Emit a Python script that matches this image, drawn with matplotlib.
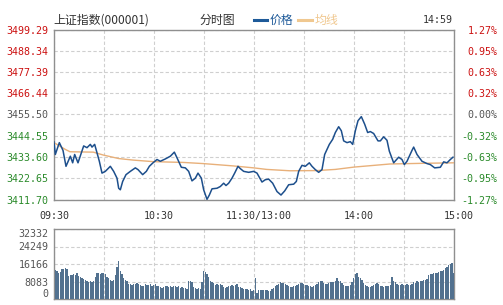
import numpy as np
import matplotlib
matplotlib.use("Agg")
import matplotlib.pyplot as plt
import matplotlib.transforms as mtransforms
from matplotlib.lines import Line2D

# ---------------- data ----------------
price_minutes = [0, 0.8, 3.2, 5.4, 7.2, 9.8, 11.2, 12.4, 14.4, 17.8, 19.8, 21.8, 22.8, 24.4,
                 27.2, 28.8, 30.8, 33.8, 35.8, 37.8, 38.8, 39.8, 41.2, 43.2, 45.8, 48.8, 50.4,
                 53.2, 55.4, 57.2, 59.4, 61.8, 63.8, 66.8, 69.8, 72.2, 73.8, 76.4, 78.8, 80.8,
                 82.8, 84.8, 86.4, 88.4, 89.8, 91.8, 93.2, 94.8, 97.8, 99.8, 101.8, 103.2, 104.8,
                 106.8, 108.4, 110.4, 111.8, 113.8, 116.8, 119.8, 121.8, 124.8, 126.8, 128.8,
                 131.2, 133.8, 136.2, 138.4, 140.8, 143.8, 145.4, 146.8, 148.8, 150.8, 153.2,
                 154.8, 156.8, 158.8, 160.8, 162.4, 165.2, 167.2, 168.8, 170.8, 172.4, 173.8,
                 175.8, 177.8, 179.2, 180.8, 182.4, 184.4, 186.4, 188.2, 189.8, 191.8, 194.4,
                 195.8, 197.8, 199.8, 201.2, 203.8, 206.8, 208.8, 210.2, 211.8, 214.8, 215.8,
                 217.8, 220.8, 223.8, 225.8, 228.4, 231.8, 233.8, 235.8, 237.8, 239.4]
price_values = [3441.3, 3434.9, 3441.0, 3437.0, 3428.8, 3434.0, 3430.6, 3434.9, 3430.6, 3439.3,
                3438.4, 3440.1, 3438.7, 3440.1, 3431.4, 3425.3, 3426.2, 3428.8, 3426.2, 3422.7,
                3417.5, 3416.7, 3421.0, 3424.5, 3426.2, 3428.0, 3427.1, 3424.5, 3426.2, 3428.8,
                3430.6, 3432.3, 3431.4, 3432.6, 3434.0, 3436.1, 3433.2, 3428.3, 3428.0, 3426.2,
                3421.3, 3422.7, 3425.3, 3422.7, 3416.7, 3411.8, 3414.0, 3417.2, 3417.5, 3418.4,
                3420.1, 3418.9, 3420.1, 3422.7, 3425.3, 3428.8, 3427.6, 3426.2, 3425.7, 3426.2,
                3425.3, 3420.7, 3421.9, 3422.2, 3420.1, 3415.8, 3414.0, 3416.1, 3419.3, 3419.6,
                3421.0, 3426.2, 3429.3, 3428.8, 3430.6, 3428.8, 3427.1, 3425.7, 3427.1, 3434.9,
                3440.1, 3442.7, 3446.2, 3449.2, 3447.1, 3441.9, 3441.0, 3441.5, 3440.1, 3447.1,
                3452.3, 3454.4, 3450.5, 3446.2, 3446.7, 3445.7, 3441.9, 3441.9, 3444.0, 3442.2,
                3436.6, 3430.6, 3433.5, 3432.3, 3429.7, 3431.4, 3437.0, 3438.7, 3434.9, 3431.4,
                3430.2, 3429.7, 3428.0, 3428.3, 3431.1, 3430.6, 3432.3, 3433.5]

avg_minutes = [0, 6.8, 9.6, 23.6, 29.6, 38.8, 47.6, 59.6, 77.6, 89.6, 107.6, 119.8, 127.6,
               141.6, 157.6, 168.8, 180.0, 201.6, 218.8, 239.6]
avg_values = [3441.0, 3437.5, 3436.3, 3436.1, 3434.6, 3432.8, 3432.0, 3431.2, 3430.8, 3430.2,
              3429.0, 3428.0, 3427.2, 3426.5, 3426.6, 3427.2, 3428.4, 3430.0, 3430.3, 3430.6]

volume_k = [
    13.5, 12.8, 12.0, 12.5, 13.7, 14.0, 14.2, 14.0, 10.8,
    11.0, 11.2, 11.5, 11.0, 11.8, 10.5, 10.0, 9.5,
    9.2, 9.0, 8.5, 8.0, 8.2, 8.0, 8.2, 10.0,
    12.0, 12.2, 11.5, 11.8, 12.0, 11.5, 10.0, 9.5,
    8.8, 8.5, 9.0, 11.0, 15.0, 17.5, 13.0, 11.5,
    9.5, 9.0, 8.5, 7.0, 6.8, 6.5, 7.0, 6.8, 7.5, 7.0,
    6.5, 6.0, 6.2, 7.0, 6.5, 6.5, 7.0, 6.0, 6.5, 7.0,
    6.0, 5.8, 5.5, 5.0, 5.5, 6.0, 5.8, 5.5, 6.0, 5.5, 6.0, 6.2, 5.5, 5.8, 5.0,
    5.5, 5.0, 5.0, 4.5, 8.5, 8.5, 8.0, 5.5, 5.0, 4.8,
    5.0, 4.5, 8.0, 12.8, 12.5, 11.5, 10.0, 8.5,
    8.0, 7.5, 6.5, 7.0, 6.5, 7.0, 6.5,
    5.5, 5.0, 5.5, 6.0, 6.0, 6.5, 6.0, 6.5, 7.0, 5.5,
    5.5, 5.0, 4.5, 4.8, 4.5, 4.0, 4.5, 3.8, 4.0,
    9.8,
    3.0, 4.0, 4.0, 4.2, 4.0, 4.2, 4.0, 3.8, 3.5, 4.5,
    5.0, 6.0, 6.5, 7.0, 8.0, 7.5,
    7.5, 7.0, 6.5, 6.0, 5.5, 5.5, 6.0, 6.0,
    6.5, 7.0, 7.2, 7.5, 7.0, 6.5,
    6.5, 6.0, 6.2, 5.5, 6.0, 6.5, 7.0,
    8.0, 8.5, 8.2, 7.5, 7.0, 7.0, 7.5, 7.8,
    8.0, 7.8, 8.5, 9.8, 8.5, 8.2, 7.5,
    6.5, 6.0, 5.8, 6.0, 6.5, 8.0,
    9.8, 11.5, 12.0, 10.0, 9.5, 9.0, 7.5,
    6.5, 6.0, 5.5, 5.5, 6.0, 6.5, 7.0, 7.2, 6.8,
    6.0, 5.8, 5.5, 5.8, 5.8, 6.0, 6.5,
    10.0, 8.5, 7.9, 7.0,
    6.6, 6.5, 6.8, 6.6, 6.5, 6.8, 6.6, 6.5, 6.8,
    8.0, 7.5, 8.2, 8.0, 8.5, 8.2, 8.8, 9.0, 9.2,
    11.0, 11.7, 11.5, 11.8,
    12.0, 12.2, 12.5, 13.0, 12.8, 13.5,
    14.5, 15.0, 15.5, 16.0, 16.4, 12.0,
]
volume_values = [v * 1000 for v in volume_k]

price_ticks = [3411.70, 3422.65, 3433.60, 3444.55, 3455.50, 3466.44, 3477.39, 3488.34, 3499.29]
price_tick_labels = ["3411.70", "3422.65", "3433.60", "3444.55", "3455.50",
                     "3466.44", "3477.39", "3488.34", "3499.29"]
pct_tick_labels = ["-1.27%", "-0.95%", "-0.63%", "-0.32%", "0.00%",
                   "0.32%", "0.63%", "0.95%", "1.27%"]
vol_ticks = [0, 8083, 16166, 24249, 32332]
vol_tick_labels = ["0", "8083", "16166", "24249", "32332"]
time_ticks = [0, 60, 120, 180, 240]
time_labels = ["09:30", "10:30", "11:30/13:00", "14:00", "15:00"]

# ---------------- style ----------------
W, H = 503, 305
RED, GRAY, GREEN = "#cc1111", "#555555", "#2a8a2a"
BLUE, TAN = "#1d4f8c", "#e8b07a"
GRID = "#cfcfcf"
SPINE = "#8f8f8f"
MONO = "DejaVu Sans Mono"
CJK = ["Noto Sans CJK SC", "DejaVu Sans"]
NUM_SIZE = 7.2

fig = plt.figure(figsize=(W / 100, H / 100), dpi=100)
fig.patch.set_facecolor("white")


def rect(l, t, r, b):
    return [l / W, 1 - b / H, (r - l) / W, (b - t) / H]


ax = fig.add_axes(rect(54, 29.5, 454, 199.5))
axv = fig.add_axes(rect(54, 229, 454, 299))

# main price panel
ax.plot(avg_minutes, avg_values, color=TAN, lw=1.0, zorder=3)
ax.plot(price_minutes, price_values, color=BLUE, lw=1.1, zorder=4)
ax.set_xlim(0, 240)
ax.set_ylim(price_ticks[0], price_ticks[-1])
ax.set_xticks(np.arange(0, 241, 30))
ax.set_xticklabels([])
ax.set_yticks(price_ticks)
ax.set_yticklabels(price_tick_labels, fontfamily=MONO, fontsize=NUM_SIZE)
ax.tick_params(length=0, pad=4)
ax.grid(True, color=GRID, ls=(0, (3, 2)), lw=0.8)
for s in ax.spines.values():
    s.set_color(SPINE)
    s.set_linewidth(1.0)
for i, lab in enumerate(ax.get_yticklabels()):
    lab.set_color(GREEN if i < 4 else (GRAY if i == 4 else RED))

ax2 = ax.twinx()
ax2.set_ylim(price_ticks[0], price_ticks[-1])
ax2.set_yticks(price_ticks)
ax2.set_yticklabels(pct_tick_labels, fontfamily=MONO, fontsize=NUM_SIZE, ha="right")
ax2.tick_params(length=0, pad=31.5)
for s in ax2.spines.values():
    s.set_visible(False)
for i, lab in enumerate(ax2.get_yticklabels()):
    lab.set_color(GREEN if i < 4 else (GRAY if i == 4 else RED))

# time labels
trans = mtransforms.blended_transform_factory(ax.transData, ax.transAxes)
for k, (t, lab) in enumerate(zip(time_ticks, time_labels)):
    off = 0 if k == 0 else 5
    tr = trans + mtransforms.ScaledTranslation(off / 100, 0, fig.dpi_scale_trans)
    ax.text(t, -16.5 / 170, lab, transform=tr, ha="center", va="center",
            fontfamily=MONO, fontsize=NUM_SIZE, color="#333333")

# volume panel
bar_x = np.arange(len(volume_values)) + 0.8
axv.bar(bar_x, volume_values, width=0.62, color="#52718f", zorder=3)
axv.set_xlim(0, 240)
axv.set_ylim(0, vol_ticks[-1])
axv.set_xticks(np.arange(0, 241, 30))
axv.set_xticklabels([])
axv.set_yticks(vol_ticks)
axv.set_yticklabels(vol_tick_labels, fontfamily=MONO, fontsize=NUM_SIZE, color=GRAY)
axv.tick_params(length=0, pad=4)
axv.grid(True, color=GRID, ls=(0, (3, 2)), lw=0.8)
for s in axv.spines.values():
    s.set_color(SPINE)
    s.set_linewidth(1.0)
vlabs = axv.get_yticklabels()
vlabs[0].set_va("bottom")
vlabs[-1].set_va("top")

# header row
ty = 1 - 20 / H
fig.text(53 / W, ty, "上证指数(000001)", fontfamily=CJK, fontsize=8.6, color="#333333",
         ha="left", va="center")
fig.text(199 / W, ty, "分时图", fontfamily=CJK, fontsize=8.6, color="#333333",
         ha="left", va="center")
fig.add_artist(Line2D([254 / W, 267 / W], [ty, ty], color="#1e5a99", lw=2.2,
                      transform=fig.transFigure))
fig.text(270 / W, ty, "价格", fontfamily=CJK, fontsize=8.6, color="#1e5a99",
         ha="left", va="center")
fig.add_artist(Line2D([298 / W, 312 / W], [ty, ty], color="#f0c890", lw=2.2,
                      transform=fig.transFigure))
fig.text(315 / W, ty, "均线", fontfamily=CJK, fontsize=8.6, color="#f0c890",
         ha="left", va="center")
fig.text(453 / W, ty, "14:59", fontfamily=MONO, fontsize=NUM_SIZE, color="#333333",
         ha="right", va="center")

fig.savefig("out.png", dpi=100, facecolor="white")
